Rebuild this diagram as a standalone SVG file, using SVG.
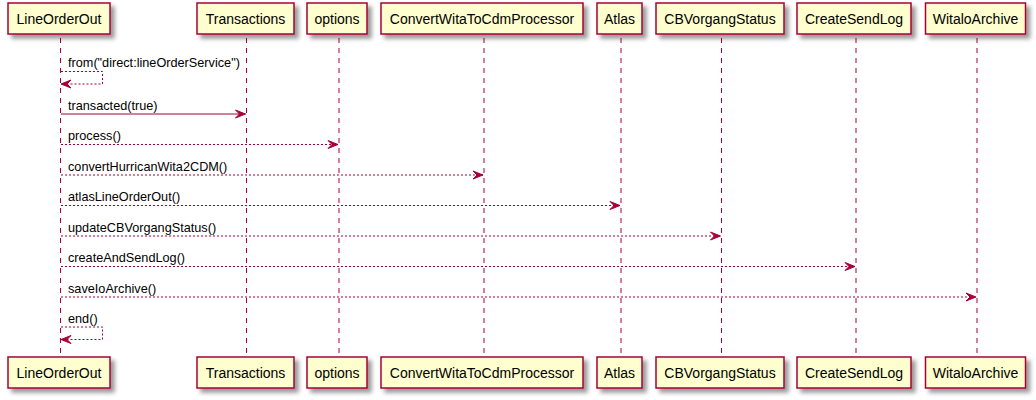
<svg xmlns="http://www.w3.org/2000/svg" width="1036" height="400" viewBox="0 0 1036 400">
<defs>
<filter id="sh" x="-1" y="-1" width="300%" height="300%">
<feGaussianBlur result="blurOut" stdDeviation="2"/>
<feColorMatrix type="matrix" in="blurOut" result="blurOut2" values="0 0 0 0 0 0 0 0 0 0 0 0 0 0 0 0 0 0 .4 0"/>
<feOffset result="blurOut3" in="blurOut2" dx="4" dy="4"/>
<feBlend in="SourceGraphic" in2="blurOut3" mode="normal"/>
</filter>
</defs>
<style>
.box{fill:#FEFECE;stroke:#A80036;stroke-width:1.5;filter:url(#sh)}
.pt{font-family:"Liberation Sans",Arial,sans-serif;font-size:14px;fill:#000;text-anchor:middle}
.life{stroke:#A80036;stroke-width:1;stroke-dasharray:5,5}
.msg{stroke:#A80036;stroke-width:1;fill:none}
.dash{stroke-dasharray:2,2}
.head{fill:#A80036;stroke:#A80036;stroke-width:1}
.ml{font-family:"Liberation Sans",Arial,sans-serif;font-size:12.7px;fill:#000}
</style>
<g id="lifelines">
<line class="life" x1="60.5" y1="38" x2="60.5" y2="357"/>
<line class="life" x1="246.5" y1="38" x2="246.5" y2="357"/>
<line class="life" x1="339" y1="38" x2="339" y2="357"/>
<line class="life" x1="484" y1="38" x2="484" y2="357"/>
<line class="life" x1="621" y1="38" x2="621" y2="357"/>
<line class="life" x1="721.5" y1="38" x2="721.5" y2="357"/>
<line class="life" x1="856" y1="38" x2="856" y2="357"/>
<line class="life" x1="977" y1="38" x2="977" y2="357"/>
</g>
<g id="LineOrderOut">
<rect class="box" x="8" y="3" width="102" height="31"/>
<text class="pt" x="59" y="24">LineOrderOut</text>
<rect class="box" x="8" y="357" width="102" height="31"/>
<text class="pt" x="59" y="378">LineOrderOut</text>
</g>
<g id="Transactions">
<rect class="box" x="197" y="3" width="97" height="31"/>
<text class="pt" x="245.5" y="24">Transactions</text>
<rect class="box" x="197" y="357" width="97" height="31"/>
<text class="pt" x="245.5" y="378">Transactions</text>
</g>
<g id="options">
<rect class="box" x="307" y="3" width="60" height="31"/>
<text class="pt" x="337" y="24">options</text>
<rect class="box" x="307" y="357" width="60" height="31"/>
<text class="pt" x="337" y="378">options</text>
</g>
<g id="ConvertWitaToCdmProcessor">
<rect class="box" x="381" y="3" width="202" height="31"/>
<text class="pt" x="482" y="24">ConvertWitaToCdmProcessor</text>
<rect class="box" x="381" y="357" width="202" height="31"/>
<text class="pt" x="482" y="378">ConvertWitaToCdmProcessor</text>
</g>
<g id="Atlas">
<rect class="box" x="597" y="3" width="45" height="31"/>
<text class="pt" x="619.5" y="24">Atlas</text>
<rect class="box" x="597" y="357" width="45" height="31"/>
<text class="pt" x="619.5" y="378">Atlas</text>
</g>
<g id="CBVorgangStatus">
<rect class="box" x="656" y="3" width="128" height="31"/>
<text class="pt" x="720" y="24">CBVorgangStatus</text>
<rect class="box" x="656" y="357" width="128" height="31"/>
<text class="pt" x="720" y="378">CBVorgangStatus</text>
</g>
<g id="CreateSendLog">
<rect class="box" x="797" y="3" width="114" height="31"/>
<text class="pt" x="854" y="24">CreateSendLog</text>
<rect class="box" x="797" y="357" width="114" height="31"/>
<text class="pt" x="854" y="378">CreateSendLog</text>
</g>
<g id="WitaloArchive">
<rect class="box" x="925.5" y="3" width="100" height="31"/>
<text class="pt" x="975.5" y="24">WitaloArchive</text>
<rect class="box" x="925.5" y="357" width="100" height="31"/>
<text class="pt" x="975.5" y="378">WitaloArchive</text>
</g>
<g id="connectors">
<polyline class="msg dash" points="61,71.5 102.5,71.5 102.5,84 61,84"/>
<polygon class="head" points="71,80 61,84 71,88 67,84"/>
<text class="ml" x="68" y="67">from("direct:lineOrderService")</text>

<line class="msg" x1="61" y1="114" x2="245.5" y2="114"/>
<polygon class="head" points="235.5,110 245.5,114 235.5,118 239.5,114"/>
<text class="ml" x="68" y="109.5">transacted(true)</text>

<line class="msg dash" x1="61" y1="144.5" x2="338" y2="144.5"/>
<polygon class="head" points="328,140.5 338,144.5 328,148.5 332,144.5"/>
<text class="ml" x="68" y="140">process()</text>

<line class="msg dash" x1="61" y1="175" x2="483" y2="175"/>
<polygon class="head" points="473,171 483,175 473,179 477,175"/>
<text class="ml" x="68" y="170.5">convertHurricanWita2CDM()</text>

<line class="msg dash" x1="61" y1="205.5" x2="620" y2="205.5"/>
<polygon class="head" points="610,201.5 620,205.5 610,209.5 614,205.5"/>
<text class="ml" x="68" y="201">atlasLineOrderOut()</text>

<line class="msg dash" x1="61" y1="236" x2="720.5" y2="236"/>
<polygon class="head" points="710.5,232 720.5,236 710.5,240 714.5,236"/>
<text class="ml" x="68" y="231.5">updateCBVorgangStatus()</text>

<line class="msg dash" x1="61" y1="266.5" x2="855" y2="266.5"/>
<polygon class="head" points="845,262.5 855,266.5 845,270.5 849,266.5"/>
<text class="ml" x="68" y="262">createAndSendLog()</text>

<line class="msg dash" x1="61" y1="297" x2="976" y2="297"/>
<polygon class="head" points="966,293 976,297 966,301 970,297"/>
<text class="ml" x="68" y="292.5">saveIoArchive()</text>

<polyline class="msg dash" points="61,327 102.5,327 102.5,339.5 61,339.5"/>
<polygon class="head" points="71,335.5 61,339.5 71,343.5 67,339.5"/>
<text class="ml" x="68" y="322.5">end()</text>
</g>
</svg>
